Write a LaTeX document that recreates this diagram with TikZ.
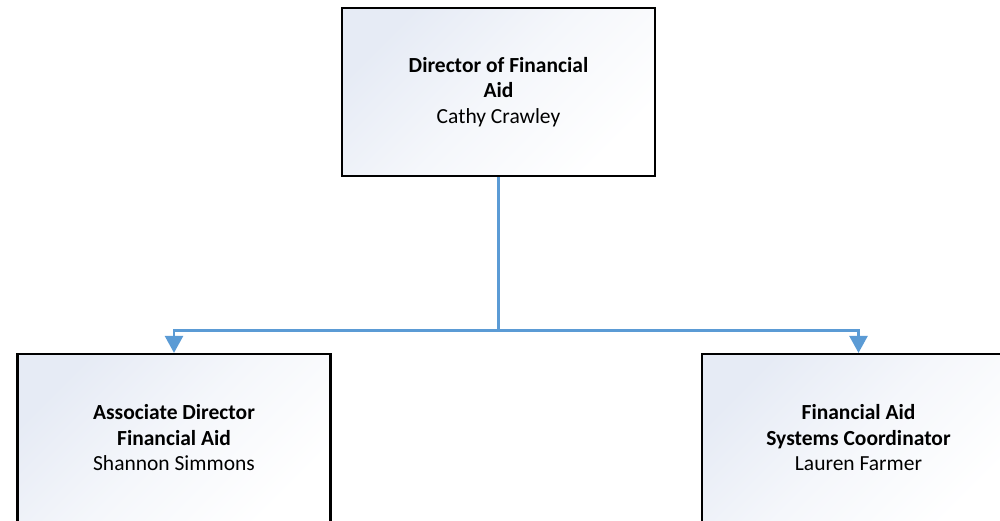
\documentclass[tikz,border=0pt]{standalone}
\usepackage{fontspec}
\setmainfont{Carlito}
\usepackage{xcolor}
\usetikzlibrary{arrows.meta, positioning}

\definecolor{linkblue}{HTML}{5B9BD5}
\definecolor{boxtint}{HTML}{E6EBF5}

\tikzset{
    post/.style={draw=black, line width=2.2pt, minimum width=313pt, minimum height=168pt,
        top color=boxtint, bottom color=white, middle color=white!60!boxtint, shading angle=45,
        align=center, font=\fontsize{21.5}{25.5}\selectfont},
    reports/.style={draw=linkblue, line width=2.6pt, -{Triangle[width=18pt,length=17pt]}}
}

\begin{document}
\begin{tikzpicture}[x=1pt, y=1pt]
        \useasboundingbox (0,0) rectangle (1000,520);
        \node[post] (dir) at (498.5,428) {\textbf{Director of Financial}\\\textbf{Aid}\\Cathy Crawley};
        \node[post] (assoc) at (174,82) {\textbf{Associate Director}\\\textbf{Financial Aid}\\Shannon Simmons};
        \node[post] (sysco) at (858.5,82) {\textbf{Financial Aid}\\\textbf{Systems Coordinator}\\Lauren Farmer};
%
        \coordinate (fork) at (498.5,189.5);
        \draw[reports] (dir.south) -- (fork) -| (assoc.north);
        \draw[reports] (fork) -| (sysco.north);
\end{tikzpicture}
\end{document}
